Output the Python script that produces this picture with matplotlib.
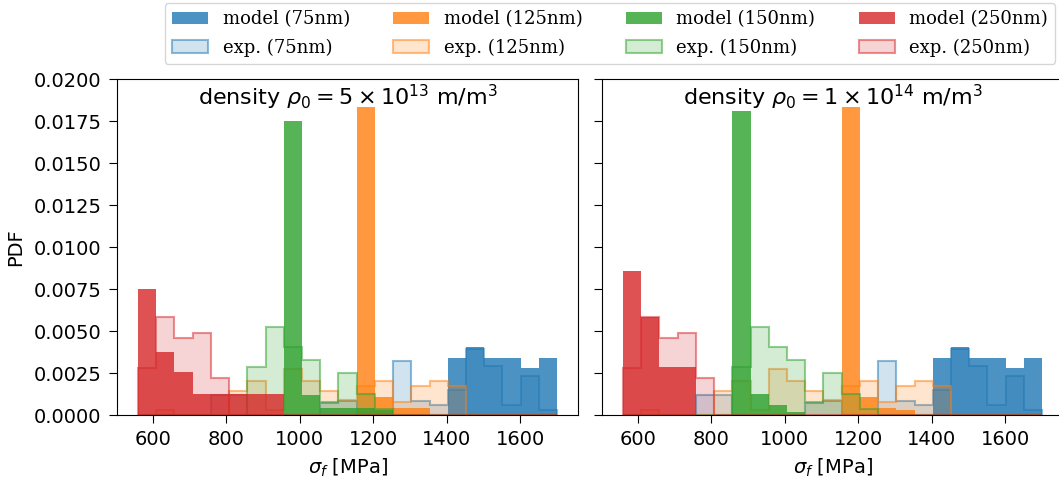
import numpy as np
import matplotlib
matplotlib.use("Agg")
import matplotlib.pyplot as plt
from matplotlib.ticker import FormatStrFormatter

plt.rcParams.update({
    'font.family': 'DejaVu Sans',
    'font.size': 14,
    'mathtext.fontset': 'dejavusans',
    'xtick.major.size': 6, 'ytick.major.size': 6,
    'xtick.major.pad': 5, 'ytick.major.pad': 5,
})

# -- Data ---------------------------------------------------------------
# common histogram bins (23 bins spanning 560 .. 1700 MPa)
BIN_LO, BIN_HI, N_BINS = 560, 1700, 23

SIZES = ['75nm', '125nm', '150nm', '250nm']
COLORS = ['#1f77b4', '#ff7f0e', '#2ca02c', '#d62728']
TITLES = [r'density $\rho_0 = 5 \times 10^{13}$ m/m$^3$',
          r'density $\rho_0 = 1 \times 10^{14}$ m/m$^3$']

# experimental PDFs (same in both panels)
exp_75 = [0, 0, 0, 0, 0.0012, 0.0012, 0, 0, 0, 0, 0.0007, 0.00085,
          0, 0, 0.0032, 0.00085, 0.0006, 0.0015, 0.0039, 0.0029, 0.0006, 0.00235, 0.0003]
exp_125 = [0, 0.0003, 0, 0, 0, 0.0014, 0.00204, 0.0003, 0.00272, 0.00204, 0.0014, 0.0009,
           0.0017, 0.00204, 0.0008, 0.0017, 0.00204, 0.0017, 0, 0, 0, 0, 0]
exp_150 = [0, 0, 0, 0, 0, 0, 0.00288, 0.00526, 0.00407, 0.0033, 0.0008, 0.00248,
           0.00125, 0.00036, 0, 0, 0, 0, 0, 0, 0, 0, 0]
exp_250 = [0.0028, 0.00585, 0.0046, 0.0049, 0.0022, 0, 0, 0, 0, 0, 0, 0,
           0, 0, 0, 0, 0, 0, 0, 0, 0, 0, 0]

# model PDFs, rho0 = 5e13
model_75_a = [0, 0, 0, 0, 0, 0, 0, 0, 0, 0, 0, 0,
              0, 0, 0, 0, 0, 0.00337, 0.00407, 0.00337, 0.00337, 0.0028, 0.00337]
model_125_a = [0, 0, 0, 0, 0, 0, 0, 0, 0, 0, 0, 0,
               0.01833, 0.0011, 0.0004, 0.0004, 0, 0, 0, 0, 0, 0, 0]
model_150_a = [0, 0, 0, 0, 0, 0, 0, 0, 0.0175, 0.0012, 0.0004, 0.0004,
               0.0004, 0.0003, 0, 0, 0, 0, 0, 0, 0, 0, 0]
model_250_a = [0.0075, 0.00377, 0.00254, 0.00125, 0.00125, 0.00125, 0.00125, 0.00125, 0, 0, 0, 0,
               0, 0, 0, 0, 0, 0, 0, 0, 0, 0, 0]

# model PDFs, rho0 = 1e14
model_75_b = [0, 0, 0, 0, 0, 0, 0, 0, 0, 0, 0, 0,
              0, 0, 0, 0, 0, 0.00337, 0.00407, 0.00337, 0.00337, 0.0028, 0.00337]
model_125_b = [0, 0, 0, 0, 0, 0, 0, 0, 0, 0, 0, 0,
               0.01833, 0.00105, 0.0004, 0.0003, 0, 0, 0, 0, 0, 0, 0]
model_150_b = [0, 0, 0, 0, 0, 0, 0.0181, 0.00125, 0.0006, 0.0002, 0, 0,
               0, 0, 0, 0, 0, 0, 0, 0, 0, 0, 0]
model_250_b = [0.0086, 0.00585, 0.00288, 0.00288, 0, 0, 0, 0, 0, 0, 0, 0,
               0, 0, 0, 0, 0, 0, 0, 0, 0, 0, 0]

EXP = [exp_75, exp_125, exp_150, exp_250]
MODELS = [[model_75_a, model_125_a, model_150_a, model_250_a],
          [model_75_b, model_125_b, model_150_b, model_250_b]]

edges = np.linspace(BIN_LO, BIN_HI, N_BINS + 1)

# -- Plot ---------------------------------------------------------------
fig = plt.figure(figsize=(10.59, 4.8), dpi=100)
axL = fig.add_axes([0.1105, 0.1354, 0.4353, 0.70])
axR = fig.add_axes([0.5685, 0.1354, 0.4353, 0.70], sharey=axL)

handles = []
for k, ax in enumerate([axL, axR]):
    for s, size in enumerate(SIZES):
        c = COLORS[s]
        he = ax.stairs(EXP[s], edges, fill=True, facecolor=(c, 0.2),
                       edgecolor=(c, 0.5), linewidth=1.5, label=f'exp. ({size})')
        hm = ax.stairs(MODELS[k][s], edges, fill=True, facecolor=c, alpha=0.8,
                       linewidth=0, label=f'model ({size})')
        if k == 0:
            handles += [hm, he]
    ax.set_xlim(503, 1757)
    ax.set_ylim(0, 0.02)
    ax.set_xticks([600, 800, 1000, 1200, 1400, 1600])
    ax.set_xlabel(r'$\sigma_f$ [MPa]', labelpad=5)
    ax.text(0.5, 0.988, TITLES[k], transform=ax.transAxes, ha='center', va='top',
            fontsize=16)

axL.set_yticks(np.arange(0, 0.02001, 0.0025))
axL.yaxis.set_major_formatter(FormatStrFormatter('%.4f'))
axL.set_ylabel('PDF', labelpad=6)
axR.tick_params(labelleft=False)

fig.legend(handles=handles, loc='upper center', bbox_to_anchor=(0.576, 1.012),
           ncol=4, prop={'family': 'DejaVu Serif', 'size': 13},
           columnspacing=2.4, labelspacing=0.55)

fig.savefig('out.png', dpi=100)
